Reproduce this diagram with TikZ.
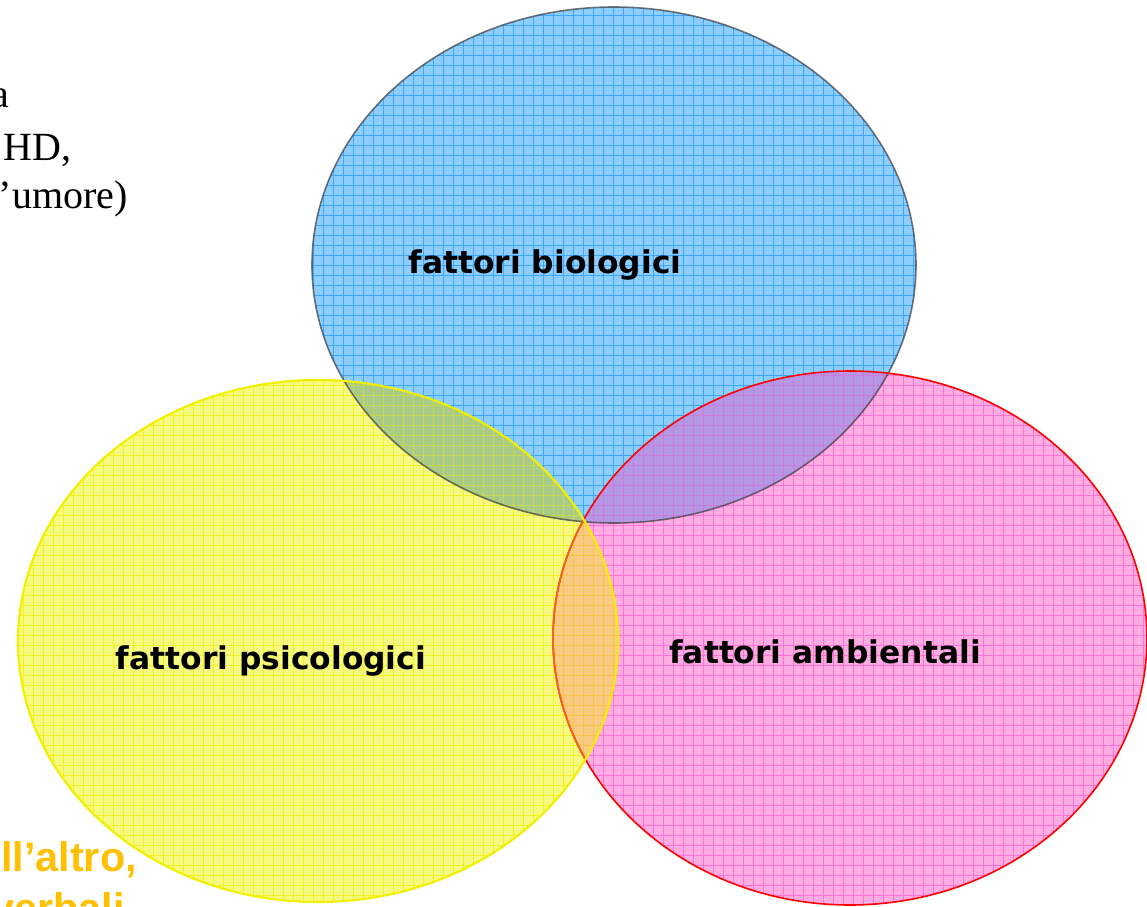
\documentclass[tikz,border=0pt]{standalone}
\usepackage{fontspec}
\usetikzlibrary{shapes.geometric}
\newfontfamily\labfont{DejaVu Sans}
\newfontfamily\serfont{Liberation Serif}
\newfontfamily\arfont{Liberation Sans}
\definecolor{bluefill}{RGB}{142,206,255}
\definecolor{bluegrid}{RGB}{60,168,255}
\definecolor{blueedge}{RGB}{60,60,60}
\definecolor{yelfill}{RGB}{247,250,128}
\definecolor{yelgrid}{RGB}{240,242,40}
\definecolor{yeledge}{RGB}{240,240,0}
\definecolor{pinkfill}{RGB}{255,172,226}
\definecolor{pinkgrid}{RGB}{255,115,212}
\definecolor{pinkedge}{RGB}{255,0,0}
\definecolor{byfill}{RGB}{170,202,135}
\definecolor{bygrid}{RGB}{198,216,80}
\definecolor{bpfill}{RGB}{180,152,228}
\definecolor{bpgrid}{RGB}{205,122,222}
\definecolor{ypfill}{RGB}{248,202,132}
\definecolor{ypgrid}{RGB}{246,196,70}
\definecolor{redinyel}{RGB}{245,100,20}
\definecolor{gold}{RGB}{255,192,0}
\newcommand\gridall[1]{%
  \foreach \k in {0,...,115}{\draw[#1, line width=0.55pt] (\k*10+3,0) -- (\k*10+3,907);}
  \foreach \k in {0,...,91}{\draw[#1, line width=0.55pt] (0,\k*10+5) -- (1147,\k*10+5);}}
\tikzset{
  venn/.style={ellipse, inner sep=0pt, outer sep=0pt},
  lab/.style={font=\labfont\bfseries\fontsize{23.5}{28}\selectfont, inner sep=0pt, anchor=base},
  sertext/.style={font=\serfont\fontsize{30}{36}\selectfont, inner sep=0pt, anchor=base east},
  goldtext/.style={font=\arfont\bfseries\fontsize{31}{36}\selectfont, text=gold, inner sep=0pt, anchor=base east},
}
\begin{document}
\begin{tikzpicture}[x=0.75pt, y=-0.75pt]
\useasboundingbox (0,0) rectangle (1147,907);
% named shapes
\node[venn, minimum width=453pt, minimum height=387pt] (bio) at (614,265) {};
\node[venn, minimum width=450pt, minimum height=391.5pt] (psi) at (318,641) {};
\node[venn, minimum width=445.5pt, minimum height=400.5pt] (amb) at (850,638) {};
% single regions
\begin{scope}
  \clip (bio.center) ellipse [x radius=302, y radius=258];
  \fill[bluefill] (0,0) rectangle (1147,907);
  \gridall{bluegrid}
\end{scope}
\begin{scope}
  \clip (psi.center) ellipse [x radius=300, y radius=261];
  \fill[yelfill] (0,0) rectangle (1147,907);
  \gridall{yelgrid}
\end{scope}
\begin{scope}
  \clip (amb.center) ellipse [x radius=297, y radius=267];
  \fill[pinkfill] (0,0) rectangle (1147,907);
  \gridall{pinkgrid}
\end{scope}
% overlaps
\begin{scope}
  \clip (bio.center) ellipse [x radius=302, y radius=258];
  \clip (psi.center) ellipse [x radius=300, y radius=261];
  \fill[byfill] (0,0) rectangle (1147,907);
  \gridall{bygrid}
\end{scope}
\begin{scope}
  \clip (bio.center) ellipse [x radius=302, y radius=258];
  \clip (amb.center) ellipse [x radius=297, y radius=267];
  \fill[bpfill] (0,0) rectangle (1147,907);
  \gridall{bpgrid}
\end{scope}
\begin{scope}
  \clip (psi.center) ellipse [x radius=300, y radius=261];
  \clip (amb.center) ellipse [x radius=297, y radius=267];
  \fill[ypfill] (0,0) rectangle (1147,907);
  \gridall{ypgrid}
\end{scope}
% edges
\draw[blueedge, draw opacity=0.7, line width=1.2pt] (bio.center) ellipse [x radius=302, y radius=258];
\draw[pinkedge, line width=1.2pt] (amb.center) ellipse [x radius=297, y radius=267];
\begin{scope}
  \clip (psi.center) ellipse [x radius=300, y radius=261];
  \draw[redinyel, line width=1.3pt] (amb.center) ellipse [x radius=297, y radius=267];
\end{scope}
\draw[yeledge, line width=1.6pt] (psi.center) ellipse [x radius=300, y radius=261];
% labels
\node[lab] (tbio) at (545,273) {fattori biologici};
\node[lab] (tpsi) at (271,669) {fattori psicologici};
\node[lab] (tamb) at (825,663) {fattori ambientali};
\node[sertext] (l1) at (10,107) {a};
\node[sertext] (l2) at (72,160) {HD,};
\node[sertext] (l3) at (128,208) {’umore)};
\node[goldtext] (g1) at (137,871) {ll’altro,};
\node[goldtext] (g2) at (125,922) {verbali};
\end{tikzpicture}
\end{document}
